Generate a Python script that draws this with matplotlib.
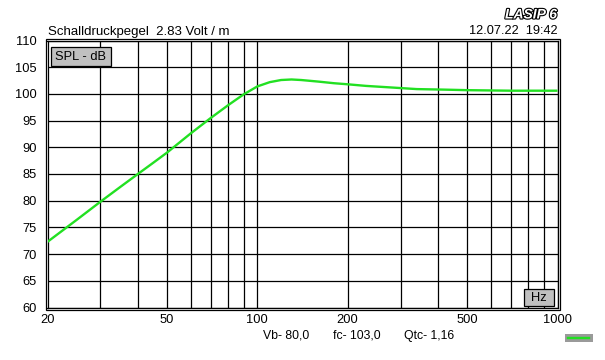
import matplotlib
matplotlib.use("Agg")
import matplotlib.pyplot as plt
from matplotlib.patches import Rectangle
from matplotlib.lines import Line2D
import matplotlib.patheffects as pe

# ---- data ----
freq = [20, 25, 30, 35, 40, 45, 50, 60, 70, 80, 90, 100, 110, 120, 130, 140,
        160, 180, 200, 230, 280, 340, 420, 500, 700, 1000]
spl = [72.3, 76.4, 79.8, 82.6, 85.0, 87.1, 89.0, 92.6, 95.5, 97.9, 99.9, 101.4,
       102.2, 102.6, 102.7, 102.6, 102.3, 102.0, 101.8, 101.5, 101.2, 100.9,
       100.8, 100.7, 100.6, 100.6]
x_grid = [20, 30, 40, 50, 60, 70, 80, 90, 100, 200, 300, 400, 500, 600, 700, 800, 900, 1000]
x_ticks = [20, 50, 100, 200, 500, 1000]
x_ticklabels = ["20", "50", "100", "200", "500", "1000"]
y_ticks = [60, 65, 70, 75, 80, 85, 90, 95, 100, 105, 110]
title = "Schalldruckpegel  2.83 Volt / m"
stamp = "12.07.22  19:42"
params = ["Vb- 80,0", "fc- 103,0", "Qtc- 1,16"]

W, H = 605, 360
plt.rcParams['font.family'] = ['Liberation Sans', 'DejaVu Sans']
fig = plt.figure(figsize=(W / 100, H / 100), dpi=100)
fig.patch.set_facecolor("white")


def fx(x):
    return x / W


def fy(y):
    return 1 - y / H


L, R, T, B = 47.5, 557.5, 40.5, 307.5
ax = fig.add_axes([fx(L), fy(B), (R - L) / W, (B - T) / H])
ax.set_xscale("log")
ax.set_xlim(20, 1000)
ax.set_ylim(60, 110)

for xv in x_grid:
    ax.axvline(xv, color="black", lw=0.9, zorder=1)
for yv in y_ticks:
    ax.axhline(yv, color="black", lw=0.9, zorder=1)

ax.plot(freq, spl, color="#22e022", lw=1.7, zorder=3, solid_capstyle="butt")

ax.set_xticks(x_ticks)
ax.set_xticklabels(x_ticklabels)
ax.xaxis.set_minor_locator(matplotlib.ticker.NullLocator())
ax.set_yticks(y_ticks)
ax.set_yticklabels([str(v) for v in y_ticks])
ax.tick_params(axis="both", length=0, labelsize=9.3, colors="black")
ax.tick_params(axis="x", pad=5)
ax.tick_params(axis="y", pad=7.5)
for s in ax.spines.values():
    s.set_linewidth(0.9)
    s.set_color("black")

# outer double border
fig.add_artist(Rectangle((fx(L - 2), fy(B + 2)), (R - L + 4) / W, (B - T + 4) / H,
                         transform=fig.transFigure, fill=False, ec="black", lw=0.9))

# boxes
fig.add_artist(Rectangle((fx(50.7), fy(66)), (111 - 50.7) / W, (66 - 46.7) / H,
                         transform=fig.transFigure, fc="#c0c0c0", ec="black", lw=0.9, zorder=5))
fig.text(fx(80.8), fy(56.5), "SPL - dB", ha="center", va="center", fontsize=9.3, zorder=6)
fig.add_artist(Rectangle((fx(524.3), fy(306.3)), (554.3 - 524.3) / W, (306.3 - 289.3) / H,
                         transform=fig.transFigure, fc="#c0c0c0", ec="black", lw=0.9, zorder=5))
fig.text(fx(539.3), fy(298), "Hz", ha="center", va="center", fontsize=9.3, zorder=6)

# texts
fig.text(fx(48.5), fy(31.5), title, ha="left", va="center", fontsize=9.5)
fig.text(fx(557.5), fy(31.5), stamp, ha="right", va="center", fontsize=9.2)
t = fig.text(fx(557), fy(14.5), "LASIP 6", ha="right", va="center", fontsize=10,
             fontweight="bold", style="italic", color="white")
t.set_path_effects([pe.Stroke(linewidth=1.6, foreground="black"), pe.Normal()])

for xpos, s in zip([262.7, 333.3, 404], params):
    fig.text(fx(xpos), fy(336), s, ha="left", va="center", fontsize=8.8)

# legend swatch
fig.add_artist(Rectangle((fx(565.3), fy(341.7)), (592.7 - 565.3) / W, (341.7 - 334.3) / H,
                         transform=fig.transFigure, fc="#9a9a9a", ec="none"))
fig.add_artist(Line2D([fx(568), fx(588.7)], [fy(338), fy(338)], transform=fig.transFigure,
                      color="#22e022", lw=1.7))

fig.savefig("out.png", dpi=100)
